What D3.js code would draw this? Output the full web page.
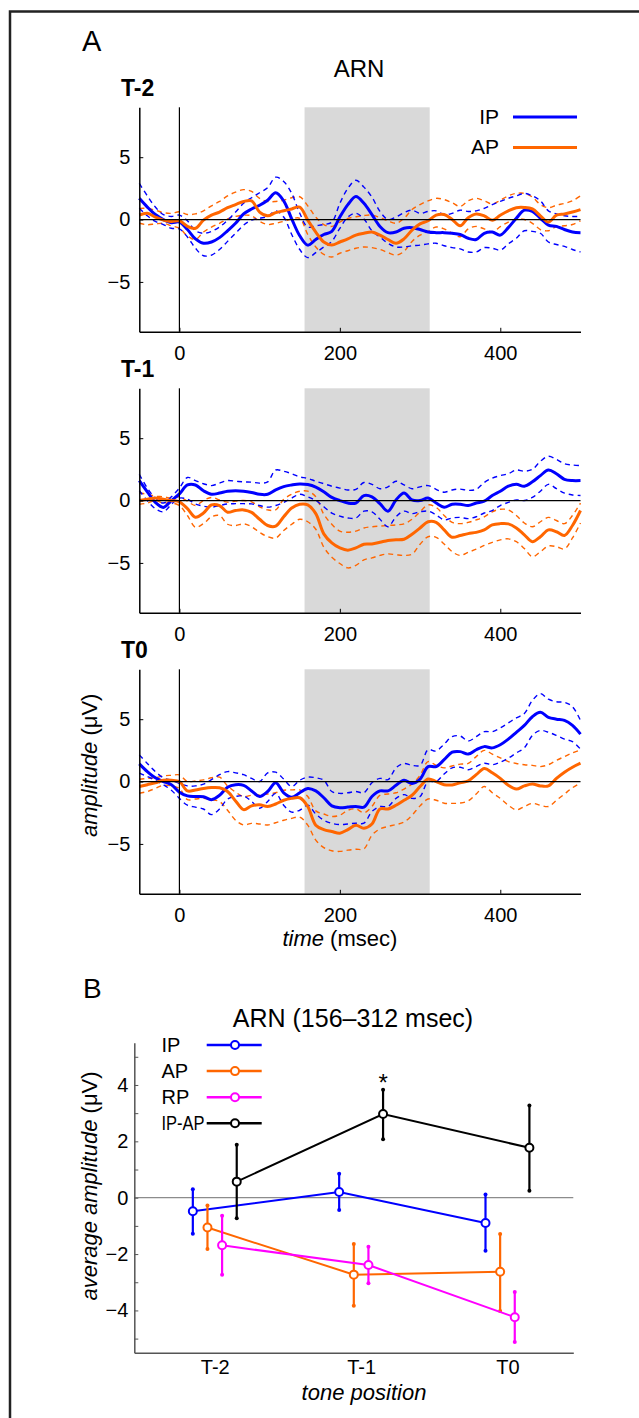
<!DOCTYPE html>
<html>
<head>
<meta charset="utf-8">
<script src="https://cdn.jsdelivr.net/npm/d3@7"></script>
<style>
body { margin: 0; background: #fff; }
text { font-family: "Liberation Sans", Arial, sans-serif; fill: #000; }
</style>
</head>
<body>
<div class="figure"></div>
<script>
// ---- panel A: ERP waveforms (µV), sampled every 10 ms ----
var times = [-50, -40, -30, -20, -10, 0, 10, 20, 30, 40,
    50, 60, 70, 80, 90, 100, 110, 120, 130, 140,
    150, 160, 170, 180, 190, 200, 210, 220, 230, 240,
    250, 260, 270, 280, 290, 300, 310, 320, 330, 340,
    350, 360, 370, 380, 390, 400, 410, 420, 430, 440,
    450, 460, 470, 480, 490, 500];

var t2_ip = [1.7, 1.0, 0.4, 0.0, -0.25, -0.2, -0.8, -1.55, -1.9, -1.8,
    -1.45, -0.9, -0.3, 0.45, 0.85, 1.15, 1.55, 2.15, 1.5, 0.05,
    -1.3, -2.05, -1.6, -1.2, -0.95, 0.2, 1.2, 1.85, 1.3, 0.4,
    -0.55, -1.05, -1.0, -0.7, -0.65, -0.8, -1.0, -1.05, -1.05, -1.1,
    -1.2, -1.5, -1.6, -1.1, -1.0, -1.25, -0.65, 0.1, 0.75, 0.65,
    0.1, -0.45, -0.55, -0.8, -1.0, -1.05];
var t2_ip_hi = [2.9, 1.9, 1.0, 0.4, 0.25, 0.35, -0.1, -0.9, -1.1, -0.95,
    -0.6, -0.05, 0.6, 1.3, 1.75, 2.15, 2.55, 3.4, 3.05, 2.1,
    0.5, -0.6, -0.5, -0.4, -0.2, 1.3, 2.5, 3.15, 2.6, 1.8,
    0.65, 0.0, 0.2, 0.55, 0.75, 0.5, 0.65, 0.7, 0.4, 0.5,
    0.75, 0.65, 0.7, 0.9, 1.2, 1.45, 1.7, 1.9, 2.1, 1.9,
    1.5, 0.7, 0.45, 0.3, 0.25, 0.25];
var t2_ip_lo = [0.9, 0.3, -0.15, -0.4, -0.7, -0.75, -1.4, -2.3, -2.9, -2.85,
    -2.4, -1.75, -1.1, -0.45, -0.05, 0.1, 0.25, 0.7, 0.2, -1.2,
    -2.4, -3.05, -2.65, -2.2, -1.75, -0.7, 0.2, 0.5, 0.05, -0.9,
    -1.4, -1.9, -2.2, -2.2, -2.1, -2.05, -1.95, -1.9, -2.1, -2.25,
    -2.35, -2.6, -2.6, -2.25, -2.3, -2.45, -1.95, -1.5, -0.9, -0.95,
    -1.1, -1.8, -2.0, -2.15, -2.4, -2.6];
var t2_ap = [0.36, 0.5, 0.2, -0.05, -0.15, -0.1, -0.55, -0.7, -0.05, 0.35,
    0.6, 0.95, 1.2, 1.45, 1.5, 0.6, 0.3, 0.55, 0.7, 0.85,
    1.0, -0.05, -1.0, -1.8, -2.05, -1.8, -1.55, -1.25, -1.1, -1.0,
    -1.25, -1.6, -1.9, -1.55, -0.85, -0.35, -0.1, 0.35, 0.4, 0.0,
    -0.5, 0.15, 0.45, 0.3, -0.05, 0.35, 0.7, 0.95, 0.97, 0.85,
    0.3, -0.2, 0.35, 0.45, 0.6, 0.8];
var t2_ap_hi = [0.9, 0.9, 0.75, 0.55, 0.5, 0.62, 0.4, 0.45, 0.7, 1.1,
    1.45, 1.9, 2.2, 2.4, 2.25, 1.7, 1.45, 1.45, 1.55, 1.75,
    1.83, 1.1, 0.2, -0.4, -0.55, -0.2, 0.1, 0.22, 0.32, 0.35,
    0.15, -0.1, -0.3, 0.1, 0.8, 1.2, 1.5, 1.7, 1.6, 1.35,
    1.05, 1.5, 1.7, 1.5, 1.25, 1.55, 1.9, 2.1, 2.1, 1.8,
    1.2, 0.95, 1.15, 1.3, 1.5, 1.9];
var t2_ap_lo = [-0.3, -0.42, -0.35, -0.3, -0.5, -0.7, -1.3, -1.6, -1.0, -0.6,
    -0.3, 0.05, 0.25, 0.35, 0.3, -0.15, -0.4, -0.3, -0.15, 0.05,
    0.1, -1.2, -2.2, -2.8, -3.0, -2.7, -2.5, -2.3, -2.2, -2.25,
    -2.4, -2.65, -2.85, -2.55, -1.75, -1.25, -0.95, -0.6, -0.75, -1.1,
    -1.38, -0.75, -0.55, -0.75, -1.0, -0.57, -0.2, 0.05, 0.0, -0.3,
    -0.8, -0.9, -0.57, -0.5, -0.4, -0.1];

var t1_ip = [1.6, 0.7, -0.15, -0.55, 0.0, 0.53, 1.25, 1.25, 0.78, 0.5,
    0.6, 0.75, 0.78, 0.75, 0.65, 0.5, 0.5, 0.85, 1.12, 1.25,
    1.33, 1.28, 1.08, 0.7, 0.25, 0.0, -0.2, -0.2, 0.4, 0.3,
    -0.25, -0.85, 0.05, 0.6, 0.05, 0.0, 0.2, -0.2, -0.53, -0.3,
    -0.3, -0.4, -0.2, -0.05, 0.4, 0.75, 1.15, 1.3, 1.15, 1.5,
    2.0, 2.45, 2.15, 1.7, 1.6, 1.6];
var t1_ip_hi = [2.1, 1.0, 0.2, -0.2, 0.3, 1.0, 1.85, 1.6, 1.35, 1.2,
    1.4, 1.6, 1.55, 1.5, 1.47, 1.4, 1.5, 2.45, 2.35, 2.15,
    1.9, 1.78, 1.55, 1.35, 1.15, 1.0, 0.85, 0.9, 1.45, 1.3,
    0.95, 1.1, 1.55, 1.25, 0.95, 1.1, 1.2, 0.9, 0.67, 0.85,
    0.92, 0.82, 0.9, 1.45, 1.8, 2.0, 2.15, 2.45, 2.35, 2.5,
    3.15, 3.55, 3.3, 2.95, 2.85, 2.8];
var t1_ip_lo = [0.8, 0.0, -0.65, -0.9, -0.3, 0.2, 0.1, -0.27, -0.45, -0.53,
    -0.4, -0.27, -0.25, -0.25, -0.27, -0.4, -0.53, -0.4, -0.15, 0.2,
    0.5, 0.3, 0.0, -0.5, -1.0, -1.25, -1.4, -1.4, -0.85, -0.9,
    -1.5, -2.1, -1.3, -0.85, -1.05, -0.9, -0.85, -1.15, -1.55, -1.4,
    -1.35, -1.45, -1.3, -1.0, -0.8, -0.4, -0.15, 0.05, 0.0, 0.25,
    0.75, 1.3, 0.95, 0.6, 0.45, 0.4];
var t1_ap = [0.0, 0.1, 0.2, 0.1, 0.0, -0.1, -0.65, -1.34, -1.0, -0.35,
    -0.4, -0.94, -0.8, -0.75, -0.95, -1.5, -2.0, -2.05, -1.3, -0.6,
    -0.3, -0.35, -1.05, -2.67, -3.4, -3.8, -3.98, -3.8, -3.5, -3.48,
    -3.35, -3.2, -3.15, -3.1, -2.7, -2.2, -1.7, -1.75, -2.35, -2.94,
    -2.8, -2.65, -2.55, -2.35, -1.95, -1.85, -1.87, -2.2, -2.75, -3.3,
    -2.9, -2.35, -2.5, -2.8, -2.0, -0.8];
var t1_ap_hi = [0.6, 0.5, 0.35, 0.3, 0.2, 0.3, -0.05, -0.4, 0.0, 0.25,
    0.05, -0.13, -0.05, 0.0, -0.1, -0.5, -0.75, -0.75, 0.1, 0.5,
    0.75, 0.75, 0.3, -1.1, -1.9, -2.45, -2.54, -2.45, -2.2, -2.1,
    -2.05, -2.0, -1.95, -1.87, -1.5, -0.9, -0.35, -0.55, -1.2, -1.75,
    -1.85, -1.75, -1.55, -1.3, -0.9, -0.7, -0.75, -1.2, -1.8, -2.1,
    -1.7, -1.35, -1.6, -1.85, -1.2, -0.2];
var t1_ap_lo = [-0.3, -0.2, 0.0, -0.2, -0.2, -0.4, -1.2, -2.14, -1.85, -1.3,
    -1.2, -1.9, -2.0, -1.87, -2.1, -2.55, -2.9, -3.0, -2.4, -1.9,
    -1.5, -1.7, -2.3, -3.74, -4.55, -5.05, -5.4, -5.2, -4.75, -4.6,
    -4.4, -4.28, -4.35, -4.4, -4.3, -3.5, -2.9, -2.95, -3.48, -4.1,
    -4.4, -4.15, -3.9, -3.6, -3.35, -3.15, -3.07, -3.3, -3.85, -4.5,
    -4.1, -3.65, -3.7, -3.88, -3.0, -1.8];

var t0_ip = [1.42, 0.8, 0.3, 0.0, -0.25, -0.85, -1.15, -1.2, -1.22, -1.45,
    -1.1, -0.45, -0.25, -0.3, -0.75, -1.2, -0.8, -0.1, -0.9, -1.26,
    -0.9, -0.55, -0.75, -1.3, -1.95, -2.1, -2.05, -2.0, -2.05, -1.2,
    -0.75, -0.75, -0.3, 0.1, -0.15, 0.2, 1.2, 1.2, 1.75, 2.35,
    2.4, 2.2, 2.55, 2.8, 2.7, 2.95, 3.4, 3.95, 4.5, 5.2,
    5.55, 5.15, 5.0, 4.9, 4.5, 3.8];
var t0_ip_hi = [2.14, 1.45, 0.8, 0.3, 0.1, -0.15, -0.35, -0.35, -0.2, 0.15,
    0.55, 0.8, 0.7, 0.55, 0.25, 0.0, 0.7, 0.75, 0.2, -0.4,
    0.1, 0.35, 0.3, 0.1, -0.8, -0.95, -0.9, -0.8, -0.9, -0.1,
    0.25, 0.15, 1.1, 1.45, 1.3, 1.3, 2.55, 2.45, 3.0, 3.6,
    3.65, 3.25, 3.6, 4.0, 4.0, 4.3, 4.7, 5.1, 5.45, 6.5,
    7.05, 6.6, 6.4, 6.35, 6.0, 4.9];
var t0_ip_lo = [0.67, 0.4, 0.1, -0.25, -0.7, -1.35, -1.9, -2.05, -2.2, -2.65,
    -2.2, -1.4, -1.2, -1.15, -1.6, -2.14, -1.6, -0.95, -1.9, -2.45,
    -2.3, -1.9, -2.6, -3.1, -3.35, -3.45, -3.4, -3.34, -3.34, -2.4,
    -2.0, -2.0, -1.35, -1.05, -1.35, -1.2, 0.0, 0.0, 0.6, 1.1,
    1.15, 0.95, 1.2, 1.47, 1.35, 1.55, 1.87, 2.3, 2.7, 3.7,
    4.1, 3.95, 3.7, 3.4, 3.2, 2.6];
var t0_ap = [-0.4, -0.25, -0.1, 0.1, 0.1, 0.0, -0.75, -0.67, -0.55, -0.48,
    -0.5, -0.8, -1.55, -2.25, -1.95, -1.87, -2.0, -1.8, -1.5, -1.35,
    -1.3, -2.0, -3.5, -3.85, -4.0, -4.14, -3.85, -3.5, -3.74, -3.4,
    -2.2, -2.2, -1.9, -1.5, -1.1, -0.4, 0.2, 0.0, -0.25, -0.27,
    -0.1, 0.05, 0.55, 1.05, 0.7, 0.25, -0.3, -0.6, -0.35, -0.2,
    -0.35, -0.35, 0.25, 0.75, 1.15, 1.47];
var t0_ap_hi = [0.19, 0.25, 0.3, 0.45, 0.5, 0.53, 0.0, 0.05, 0.13, 0.3,
    0.35, -0.35, -0.85, -1.2, -1.1, -1.07, -1.0, -0.9, -0.7, -0.67,
    -0.67, -1.2, -2.35, -2.6, -2.8, -2.7, -2.3, -2.2, -2.5, -2.0,
    -1.1, -1.0, -0.9, -0.6, -0.2, 0.5, 1.6, 1.3, 1.1, 1.25,
    1.4, 1.45, 2.0, 2.5, 2.2, 1.9, 1.6, 1.45, 1.35, 1.3,
    1.2, 1.35, 1.7, 2.0, 2.3, 2.54];
var t0_ap_lo = [-0.94, -0.8, -0.55, -0.3, -0.35, -0.55, -1.45, -1.4, -1.35, -1.45,
    -1.6, -2.3, -3.1, -3.48, -3.35, -3.4, -3.48, -3.3, -3.1, -2.95,
    -2.85, -3.5, -4.7, -5.3, -5.55, -5.6, -5.5, -5.43, -5.4, -4.3,
    -3.8, -3.6, -3.45, -3.25, -2.7, -1.95, -1.4, -1.5, -1.74, -1.75,
    -1.72, -1.55, -1.0, -0.4, -0.9, -1.35, -1.9, -2.27, -2.0, -1.75,
    -1.9, -2.0, -1.5, -1.0, -0.5, -0.13];

var panelNames = ["T-2", "T-1", "T0"];
var timeTicks = [0, 200, 400];
var ampTicks = [-5, 0, 5];
var arnWindow = [156, 312];

// ---- panel B: mean amplitude 156-312 ms ----
var tonePositions = ["T-2", "T-1", "T0"];
var ipMean = [-0.48, 0.20, -0.90];
var ipUpper = [0.30, 0.85, 0.11];
var ipLower = [-1.28, -0.44, -1.88];
var apMean = [-1.06, -2.73, -2.63];
var apUpper = [-0.28, -1.64, -1.29];
var apLower = [-1.82, -3.83, -4.02];
var rpMean = [-1.69, -2.39, -4.24];
var rpUpper = [-0.64, -1.74, -3.35];
var rpLower = [-2.73, -3.04, -5.12];
var diffMean = [0.57, 2.97, 1.77];
var diffUpper = [1.88, 3.83, 3.27];
var diffLower = [-0.73, 2.07, 0.25];
var avgTicks = [-5, -4, -3, -2, -1, 0, 1, 2, 3, 4, 5];

var BLUE = "#0000ff", ORANGE = "#ff6600", MAGENTA = "#ff00ff";

var svg = d3.select(".figure").append("svg")
    .attr("width", 639)
    .attr("height", 1418);

function minusFmt(d) { return d < 0 ? "\u2212" + Math.abs(d) : String(d); }

// frame
svg.append("path")
    .attr("d", "M10,1418V11.5H639")
    .attr("fill", "none")
    .attr("stroke", "#222")
    .attr("stroke-width", 2.5);

svg.append("text").attr("x", 82).attr("y", 51).style("font-size", "29px").text("A");
svg.append("text").attr("x", 359).attr("y", 77).attr("text-anchor", "middle")
    .style("font-size", "24px").text("ARN");

var erp = [
    { ip: t2_ip, ipHi: t2_ip_hi, ipLo: t2_ip_lo, ap: t2_ap, apHi: t2_ap_hi, apLo: t2_ap_lo },
    { ip: t1_ip, ipHi: t1_ip_hi, ipLo: t1_ip_lo, ap: t1_ap, apHi: t1_ap_hi, apLo: t1_ap_lo },
    { ip: t0_ip, ipHi: t0_ip_hi, ipLo: t0_ip_lo, ap: t0_ap, apHi: t0_ap_hi, apLo: t0_ap_lo }
];

var panelTops = [107.3, 388.3, 669.3];
var panelH = 224.5;

var x = d3.scaleLinear().domain([-50, 500]).range([139.3, 580.5]);

function drawErpPanel(i) {
    var top = panelTops[i];
    var y = d3.scaleLinear().domain([-9, 9]).range([top + panelH, top]);
    var g = svg.append("g").attr("class", "erp");

    g.append("rect")
        .attr("x", x(arnWindow[0]))
        .attr("y", top)
        .attr("width", x(arnWindow[1]) - x(arnWindow[0]))
        .attr("height", panelH)
        .attr("fill", "#d9d9d9");

    var line = d3.line()
        .x(function (d, k) { return x(times[k]); })
        .y(function (d) { return y(d); })
        .curve(d3.curveCatmullRom.alpha(0.5));

    var d = erp[i];
    [[d.apHi, ORANGE], [d.apLo, ORANGE], [d.ipHi, BLUE], [d.ipLo, BLUE]].forEach(function (s) {
        g.append("path").datum(s[0])
            .attr("d", line)
            .attr("fill", "none")
            .attr("stroke", s[1])
            .attr("stroke-width", 1.4)
            .attr("stroke-dasharray", "5,4");
    });
    [[d.ip, BLUE], [d.ap, ORANGE]].forEach(function (s) {
        g.append("path").datum(s[0])
            .attr("d", line)
            .attr("fill", "none")
            .attr("stroke", s[1])
            .attr("stroke-width", 3);
    });

    // zero lines
    g.append("line")
        .attr("x1", x(-50)).attr("x2", x(500))
        .attr("y1", y(0)).attr("y2", y(0))
        .attr("stroke", "#000").attr("stroke-width", 1.2);
    g.append("line")
        .attr("x1", x(0)).attr("x2", x(0))
        .attr("y1", top).attr("y2", top + panelH)
        .attr("stroke", "#000").attr("stroke-width", 1.2);

    var yAxis = g.append("g")
        .attr("transform", "translate(" + x(-50) + ",0)")
        .call(d3.axisLeft(y).tickValues(ampTicks).tickSizeInner(-4).tickSizeOuter(0)
            .tickPadding(9).tickFormat(minusFmt));
    var xAxis = g.append("g")
        .attr("transform", "translate(0," + (top + panelH) + ")")
        .call(d3.axisBottom(x).tickValues(timeTicks).tickSizeInner(-4).tickSizeOuter(0)
            .tickPadding(14.5));
    [yAxis, xAxis].forEach(function (a) {
        a.selectAll("text").style("font-size", "20px").attr("fill", "#000")
            .style("font-family", "'Liberation Sans', Arial, sans-serif");
        a.selectAll("line").attr("stroke", "#000");
        a.select(".domain").attr("stroke", "#000").attr("stroke-width", 1.5);
    });

    svg.append("text")
        .attr("x", 121).attr("y", top - 11)
        .style("font-size", "23px").style("font-weight", "bold")
        .text(panelNames[i]);

    if (i == 0) {
        var leg = [["IP", BLUE], ["AP", ORANGE]];
        leg.forEach(function (l, k) {
            svg.append("text").attr("x", 499).attr("y", 124 + k * 30)
                .attr("text-anchor", "end").style("font-size", "21px").text(l[0]);
            svg.append("line").attr("x1", 513).attr("x2", 577)
                .attr("y1", 117 + k * 30.5).attr("y2", 117 + k * 30.5)
                .attr("stroke", l[1]).attr("stroke-width", 3);
        });
    }
    if (i == 2) {
        var lab = svg.append("text")
            .attr("transform", "translate(97," + (top + 96) + ") rotate(-90)")
            .attr("text-anchor", "middle")
            .style("font-size", "22px");
        lab.append("tspan").style("font-style", "italic").text("amplitude");
        lab.append("tspan").text(" (\u03bcV)");

        var tl = svg.append("text")
            .attr("x", x(200)).attr("y", top + panelH + 52)
            .attr("text-anchor", "middle")
            .style("font-size", "22px");
        tl.append("tspan").style("font-style", "italic").text("time");
        tl.append("tspan").text(" (msec)");
    }
}

for (var p = 0; p < 3; p++) { drawErpPanel(p); }

// ---- panel B ----
function drawSummary() {
    var xB = d3.scaleLinear().domain([0.5, 3.5]).range([134.3, 573.3]);
    var yB = d3.scaleLinear().domain([-5.5, 5.5]).range([1352.7, 1042.7]);
    var g = svg.append("g").attr("class", "summary");

    svg.append("text").attr("x", 83).attr("y", 998).style("font-size", "28px").text("B");
    svg.append("text").attr("x", 353).attr("y", 1027).attr("text-anchor", "middle")
        .style("font-size", "25px").text("ARN (156\u2013312 msec)");

    g.append("line")
        .attr("x1", xB(0.5)).attr("x2", xB(3.5))
        .attr("y1", yB(0)).attr("y2", yB(0))
        .attr("stroke", "#8c8c8c").attr("stroke-width", 1.2);

    var yAx = g.append("g")
        .attr("transform", "translate(" + xB(0.5) + ",0)")
        .call(d3.axisLeft(yB).tickValues(avgTicks).tickSizeInner(-4).tickSizeOuter(0)
            .tickPadding(6)
            .tickFormat(function (d) { return d % 2 == 0 ? minusFmt(d) : ""; }));
    var xAx = g.append("g")
        .attr("transform", "translate(0," + yB(-5.5) + ")")
        .call(d3.axisBottom(xB).tickValues([1.05, 2.05, 3.05]).tickSize(0)
            .tickPadding(7.5)
            .tickFormat(function (d, i) { return tonePositions[i]; }));
    [yAx, xAx].forEach(function (a) {
        a.selectAll("text").style("font-size", "20px").attr("fill", "#000")
            .style("font-family", "'Liberation Sans', Arial, sans-serif");
        a.selectAll("line").attr("stroke", "#555");
        a.select(".domain").attr("stroke", "#555").attr("stroke-width", 1.5);
    });

    var series = [
        { name: "IP", color: BLUE, shift: -0.1, m: ipMean, hi: ipUpper, lo: ipLower },
        { name: "AP", color: ORANGE, shift: 0, m: apMean, hi: apUpper, lo: apLower },
        { name: "RP", color: MAGENTA, shift: 0.1, m: rpMean, hi: rpUpper, lo: rpLower },
        { name: "IP-AP", color: "#000", shift: 0.2, m: diffMean, hi: diffUpper, lo: diffLower }
    ];

    series.forEach(function (s) {
        var sg = g.append("g");
        var pts = s.m.map(function (v, k) { return { x: k + 1 + s.shift, v: v, hi: s.hi[k], lo: s.lo[k] }; });
        sg.append("path").datum(pts)
            .attr("d", d3.line().x(function (d) { return xB(d.x); }).y(function (d) { return yB(d.v); }))
            .attr("fill", "none").attr("stroke", s.color).attr("stroke-width", 2);
        sg.selectAll(".bar").data(pts).enter().append("line")
            .attr("x1", function (d) { return xB(d.x); })
            .attr("x2", function (d) { return xB(d.x); })
            .attr("y1", function (d) { return yB(d.hi); })
            .attr("y2", function (d) { return yB(d.lo); })
            .attr("stroke", s.color).attr("stroke-width", 2.2);
        ["hi", "lo"].forEach(function (key) {
            sg.selectAll(".cap" + key).data(pts).enter().append("circle")
                .attr("cx", function (d) { return xB(d.x); })
                .attr("cy", function (d) { return yB(d[key]); })
                .attr("r", 2).attr("fill", s.color);
        });
        sg.selectAll(".pt").data(pts).enter().append("circle")
            .attr("cx", function (d) { return xB(d.x); })
            .attr("cy", function (d) { return yB(d.v); })
            .attr("r", 4).attr("fill", "#fff")
            .attr("stroke", s.color).attr("stroke-width", 2);
    });

    // significance mark over IP-AP at T-1
    svg.append("text")
        .attr("x", xB(2 + 0.2)).attr("y", yB(diffUpper[1]) + 1)
        .attr("text-anchor", "middle")
        .style("font-size", "24px")
        .text("*");

    // legend
    series.forEach(function (s, k) {
        var cy = 1045 + k * 26.1;
        var t = svg.append("text").attr("x", 161.5).attr("y", cy + 7)
            .style("font-size", "20px").text(s.name);
        if (s.name.length > 2) {
            t.attr("textLength", 43).attr("lengthAdjust", "spacingAndGlyphs");
        }
        svg.append("line").attr("x1", 206.7).attr("x2", 261.7)
            .attr("y1", cy).attr("y2", cy)
            .attr("stroke", s.color).attr("stroke-width", 2.5);
        svg.append("circle").attr("cx", 235).attr("cy", cy).attr("r", 4)
            .attr("fill", "#fff").attr("stroke", s.color).attr("stroke-width", 2);
    });

    var yl = svg.append("text")
        .attr("transform", "translate(97,1186) rotate(-90)")
        .attr("text-anchor", "middle")
        .style("font-size", "22px");
    yl.append("tspan").style("font-style", "italic").text("average amplitude");
    yl.append("tspan").text(" (\u03bcV)");

    svg.append("text")
        .attr("x", 364).attr("y", 1400)
        .attr("text-anchor", "middle")
        .style("font-size", "22px")
        .style("font-style", "italic")
        .text("tone position");
}

drawSummary();
</script>
</body>
</html>
